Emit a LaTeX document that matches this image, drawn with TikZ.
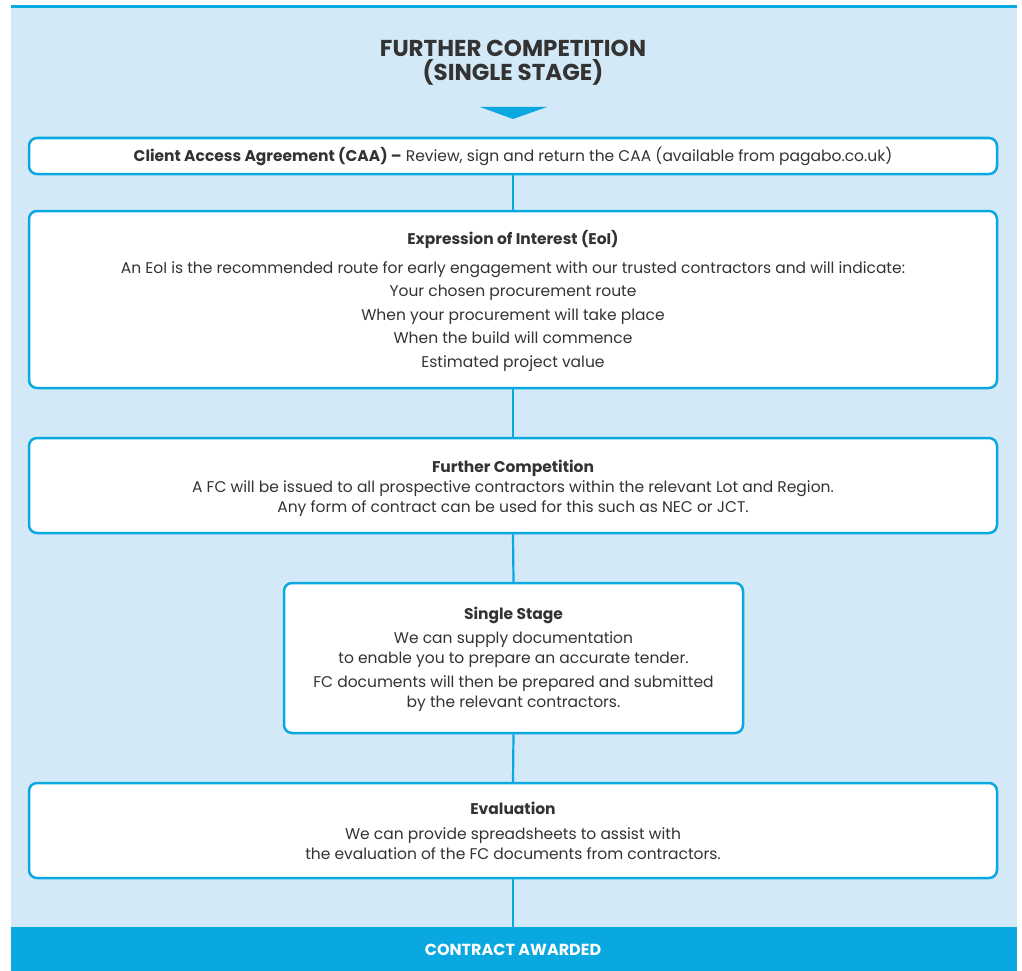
\documentclass[tikz,border=0pt]{standalone}
\usepackage{fontspec}
\setmainfont{Poppins}
\definecolor{bgblue}{HTML}{D4E9F7}
\definecolor{lineblue}{HTML}{0AA8E0}
\definecolor{txt}{HTML}{333333}
\tikzset{
  stepbox/.style={draw=lineblue, line width=2.5pt, rounded corners=8pt, fill=white,
    align=center, text=txt, font=\fontsize{15.5}{20}\selectfont, inner sep=0pt},
  link/.style={draw=lineblue, line width=2.2pt}
}
\begin{document}
\begin{tikzpicture}[x=1pt,y=-1pt]
\useasboundingbox (0,0) rectangle (1022,971);
\fill[bgblue] (11,5) rectangle (1017,927);
\fill[lineblue] (11,5) rectangle (1017,7.8);
\fill[lineblue] (11,927) rectangle (1017,971);
\node[text=txt, font=\bfseries\fontsize{23}{24}\selectfont, align=center] (title) at (513,63) {FURTHER COMPETITION\\(SINGLE STAGE)};
\fill[lineblue] (480,107) -- (547,107) -- (513,119) -- cycle;
\node[stepbox, minimum width=968, minimum height=36] (caa) at (513,156) {\rule{0pt}{13pt}\textbf{Client Access Agreement (CAA) --} Review, sign and return the CAA (available from pagabo.co.uk)};
\node[stepbox, minimum width=968, minimum height=177] (eoi) at (513,299.5) {\rule{0pt}{16.5pt}\textbf{Expression of Interest (EoI)}\\[9pt]
An EoI is the recommended route for early engagement with our trusted contractors and will indicate:\\[3.5pt]
Your chosen procurement route\\[3.5pt]
When your procurement will take place\\[3.5pt]
When the build will commence\\[3.5pt]
Estimated project value};
\node[stepbox, minimum width=968, minimum height=95] (fc) at (513,485.5) {\rule{0pt}{17.5pt}\textbf{Further Competition}\\
A FC will be issued to all prospective contractors within the relevant Lot and Region.\\
Any form of contract can be used for this such as NEC or JCT.};
\node[stepbox, minimum width=459, minimum height=150] (ss) at (513.5,658) {\rule{0pt}{15.5pt}\textbf{Single Stage}\\[4pt]
We can supply documentation\\
to enable you to prepare an accurate tender.\\[4pt]
FC documents will then be prepared and submitted\\
by the relevant contractors.};
\node[stepbox, minimum width=968, minimum height=95] (ev) at (513,830.5) {\textbf{Evaluation}\\[5pt]
We can provide spreadsheets to assist with\\
the evaluation of the FC documents from contractors.};
\node[text=white, font=\bfseries\fontsize{16}{18}\selectfont] (award) at (513,950) {CONTRACT AWARDED};
\coordinate (awtop) at (513,927);
\draw[link] (caa.south) -- (eoi.north);
\draw[link] (eoi.south) -- (fc.north);
\draw[link] (fc.south) -- (ss.north);
\draw[link] (ss.south) -- (ev.north);
\draw[link] (ev.south) -- (awtop);
\end{tikzpicture}
\end{document}
